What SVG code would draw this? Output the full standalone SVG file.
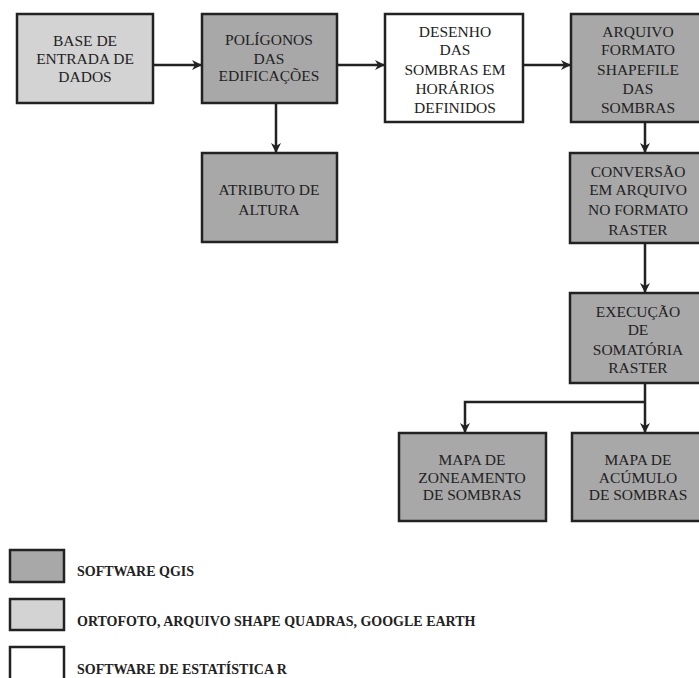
<svg xmlns="http://www.w3.org/2000/svg" width="699" height="678" viewBox="0 0 699 678">
<style>
.box{stroke:#222;stroke-width:2.5}
.dark{fill:#a8a8a8}
.light{fill:#d3d3d3}
.white{fill:#fff}
.t{font-family:"Liberation Serif","Times New Roman","DejaVu Serif",serif;font-size:15.5px;fill:#222;text-anchor:middle}
.lg{font-family:"Liberation Serif","Times New Roman","DejaVu Serif",serif;font-size:14px;font-weight:bold;fill:#222}
.c{stroke:#222;stroke-width:2.5;fill:none}
</style>
<defs>
<marker id="ah" viewBox="0 0 10 10" refX="9" refY="5" markerWidth="4" markerHeight="4" orient="auto" markerUnits="strokeWidth">
<path d="M0,0 L10,5 L0,10 L3,5 Z" fill="#222"/>
</marker>
</defs>
<rect width="699" height="678" fill="#fff"/>
<g id="connectors">
<line class="c" x1="153" y1="65" x2="201" y2="65" marker-end="url(#ah)"/>
<line class="c" x1="337" y1="65" x2="384" y2="65" marker-end="url(#ah)"/>
<line class="c" x1="523" y1="65" x2="570" y2="65" marker-end="url(#ah)"/>
<line class="c" x1="276" y1="103" x2="276" y2="152" marker-end="url(#ah)"/>
<line class="c" x1="645" y1="122" x2="645" y2="152" marker-end="url(#ah)"/>
<line class="c" x1="645" y1="243" x2="645" y2="292" marker-end="url(#ah)"/>
<line class="c" x1="645" y1="383" x2="645" y2="432" marker-end="url(#ah)"/>
<polyline class="c" points="645,402 465,402 465,432" marker-end="url(#ah)"/>
</g>
<g id="base">
<rect class="box light" x="17" y="14" width="136" height="89"/>
<text class="t" x="85" y="46">BASE DE</text>
<text class="t" x="85" y="64">ENTRADA DE</text>
<text class="t" x="85" y="82">DADOS</text>
</g>
<g id="poligonos">
<rect class="box dark" x="202" y="14" width="135" height="89"/>
<text class="t" x="269" y="45">POLÍGONOS</text>
<text class="t" x="269" y="64">DAS</text>
<text class="t" x="269" y="81">EDIFICAÇÕES</text>
</g>
<g id="desenho">
<rect class="box white" x="385" y="14" width="138" height="108"/>
<text class="t" x="455" y="37">DESENHO</text>
<text class="t" x="455" y="55">DAS</text>
<text class="t" x="455" y="75">SOMBRAS EM</text>
<text class="t" x="455" y="94">HORÁRIOS</text>
<text class="t" x="455" y="113">DEFINIDOS</text>
</g>
<g id="arquivo">
<rect class="box dark" x="571" y="14" width="136" height="108"/>
<text class="t" x="638" y="37">ARQUIVO</text>
<text class="t" x="638" y="55">FORMATO</text>
<text class="t" x="638" y="75">SHAPEFILE</text>
<text class="t" x="638" y="94">DAS</text>
<text class="t" x="638" y="113">SOMBRAS</text>
</g>
<g id="atributo">
<rect class="box dark" x="202" y="153" width="135" height="89"/>
<text class="t" x="269" y="195">ATRIBUTO DE</text>
<text class="t" x="269" y="215">ALTURA</text>
</g>
<g id="conversao">
<rect class="box dark" x="570" y="153" width="137" height="90"/>
<text class="t" x="638" y="177">CONVERSÃO</text>
<text class="t" x="638" y="195">EM ARQUIVO</text>
<text class="t" x="638" y="215">NO FORMATO</text>
<text class="t" x="638" y="235">RASTER</text>
</g>
<g id="execucao">
<rect class="box dark" x="570" y="293" width="137" height="90"/>
<text class="t" x="638" y="317">EXECUÇÃO</text>
<text class="t" x="638" y="335">DE</text>
<text class="t" x="638" y="355">SOMATÓRIA</text>
<text class="t" x="638" y="373">RASTER</text>
</g>
<g id="zoneamento">
<rect class="box dark" x="399" y="433" width="147" height="88"/>
<text class="t" x="472" y="465">MAPA  DE</text>
<text class="t" x="472" y="483">ZONEAMENTO</text>
<text class="t" x="472" y="500">DE SOMBRAS</text>
</g>
<g id="acumulo">
<rect class="box dark" x="572" y="433" width="135" height="88"/>
<text class="t" x="638" y="465">MAPA DE</text>
<text class="t" x="638" y="483">ACÚMULO</text>
<text class="t" x="638" y="500">DE SOMBRAS</text>
</g>
<g id="legend">
<rect class="box dark" x="10" y="550" width="54" height="32"/>
<text class="lg" x="77" y="576">SOFTWARE QGIS</text>
<rect class="box light" x="10" y="599" width="54" height="31"/>
<text class="lg" x="77" y="626">ORTOFOTO, ARQUIVO SHAPE QUADRAS, GOOGLE EARTH</text>
<rect class="box white" x="10" y="647" width="54" height="34"/>
<text class="lg" x="77" y="674">SOFTWARE DE ESTATÍSTICA R</text>
</g>
</svg>
